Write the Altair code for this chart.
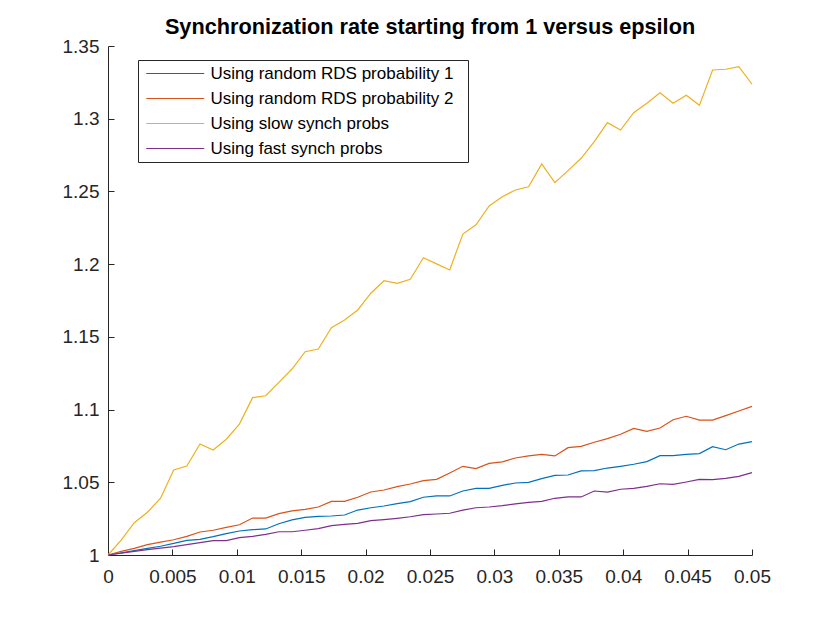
import altair as alt
import numpy as np
import pandas as pd

epsilon = np.linspace(0, 0.05, 50)

series_names = [
    "Using random RDS probability 1",
    "Using random RDS probability 2",
    "Using slow synch probs",
    "Using fast synch probs",
]
series_colors = ["#0072BD", "#D95319", "#EDB120", "#7E2F8E"]

rds1 = [1.0, 1.0015, 1.0030, 1.0045, 1.0060, 1.0080, 1.0101, 1.0108, 1.0126, 1.0147,
        1.0165, 1.0174, 1.0179, 1.0215, 1.0241, 1.0259, 1.0266, 1.0268, 1.0275, 1.0309,
        1.0325, 1.0337, 1.0353, 1.0367, 1.0397, 1.0406, 1.0406, 1.0440, 1.0458, 1.0458,
        1.0479, 1.0495, 1.0500, 1.0525, 1.0548, 1.0550, 1.0578, 1.0580, 1.0598, 1.0610,
        1.0624, 1.0642, 1.0683, 1.0683, 1.0692, 1.0697, 1.0745, 1.0724, 1.0763, 1.0779]

rds2 = [1.0, 1.0025, 1.0046, 1.0071, 1.0089, 1.0105, 1.0128, 1.0158, 1.0170, 1.0190,
        1.0208, 1.0254, 1.0254, 1.0284, 1.0303, 1.0314, 1.0330, 1.0369, 1.0369, 1.0397,
        1.0433, 1.0447, 1.0470, 1.0488, 1.0511, 1.0520, 1.0564, 1.0610, 1.0594, 1.0630,
        1.0640, 1.0667, 1.0681, 1.0692, 1.0681, 1.0738, 1.0747, 1.0775, 1.0800, 1.0830,
        1.0871, 1.0850, 1.0873, 1.0930, 1.0954, 1.0928, 1.0928, 1.0958, 1.0990, 1.1022]

slow = [1.0, 1.0103, 1.0222, 1.0294, 1.0390, 1.0585, 1.0612, 1.0763, 1.0722, 1.0796,
        1.0900, 1.1082, 1.1095, 1.1187, 1.1279, 1.1398, 1.1416, 1.1563, 1.1616, 1.1685,
        1.1800, 1.1886, 1.1868, 1.1896, 1.2044, 1.2002, 1.1960, 1.2207, 1.2271, 1.2400,
        1.2464, 1.2510, 1.2532, 1.2689, 1.2560, 1.2643, 1.2728, 1.2842, 1.2973, 1.2922,
        1.3041, 1.3106, 1.3179, 1.3106, 1.3161, 1.3092, 1.3335, 1.3340, 1.3358, 1.3237]

fast = [1.0, 1.0012, 1.0025, 1.0037, 1.0047, 1.0057, 1.0071, 1.0085, 1.0099, 1.0099,
        1.0119, 1.0128, 1.0142, 1.0160, 1.0160, 1.0170, 1.0181, 1.0202, 1.0211, 1.0218,
        1.0236, 1.0243, 1.0252, 1.0263, 1.0277, 1.0282, 1.0287, 1.0309, 1.0325, 1.0330,
        1.0339, 1.0351, 1.0362, 1.0369, 1.0390, 1.0399, 1.0399, 1.0440, 1.0433, 1.0452,
        1.0458, 1.0472, 1.0490, 1.0486, 1.0502, 1.0520, 1.0518, 1.0527, 1.0541, 1.0566]

x_ticks = [0, 0.005, 0.01, 0.015, 0.02, 0.025, 0.03, 0.035, 0.04, 0.045, 0.05]
y_ticks = [1, 1.05, 1.1, 1.15, 1.2, 1.25, 1.3, 1.35]

frames = []
for k, (name, vals) in enumerate(zip(series_names, [rds1, rds2, slow, fast])):
    frames.append(pd.DataFrame({"epsilon": epsilon, "rate": vals, "series": name, "order": k}))
df = pd.concat(frames, ignore_index=True)

FONT = "Liberation Sans"
AX = "#262626"

chart = alt.Chart(df).mark_line(strokeWidth=1.2).encode(
    x=alt.X("epsilon:Q",
            scale=alt.Scale(domain=[0, 0.05], nice=False, zero=False),
            axis=alt.Axis(values=x_ticks, format="~g", title=None, labelPadding=18,
                          labelFlush=False)),
    y=alt.Y("rate:Q",
            scale=alt.Scale(domain=[1, 1.35], nice=False, zero=False),
            axis=alt.Axis(values=y_ticks, format="~g", title=None, labelPadding=15,
                          labelFlush=False)),
    color=alt.Color("series:N",
                    scale=alt.Scale(domain=series_names, range=series_colors),
                    legend=alt.Legend(orient="none", legendX=30, legendY=14,
                                      title=" ", titleOrient="right", titlePadding=10,
                                      titleFontSize=17,
                                      symbolType="M-4,0H4", symbolSize=210,
                                      symbolStrokeWidth=1.2, symbolOffset=23.75,
                                      labelOffset=26.75,
                                      labelFont=FONT, labelFontSize=17, labelColor="black",
                                      labelLimit=600, padding=5, rowPadding=7,
                                      fillColor="white", strokeColor=AX,
                                      cornerRadius=0)),
    detail="order:O",
).properties(
    width=644,
    height=509,
    title=alt.TitleParams("Synchronization rate starting from 1 versus epsilon",
                          font=FONT, fontSize=21.7, fontWeight="bold", color="black",
                          anchor="middle", frame="group", offset=-2),
    autosize=alt.AutoSizeParams(type="none"),
    padding={"left": 100, "top": 38, "right": 62, "bottom": 60},
).configure_view(
    stroke=None
).configure_axis(
    grid=False,
    domainColor=AX,
    domainWidth=1,
    tickColor=AX,
    tickWidth=1,
    tickSize={"expr": "-6"},
    labelColor=AX,
    labelFont=FONT,
    labelFontSize=19,
)

chart.save("out.html", embed_options={"renderer": "svg", "actions": False})
